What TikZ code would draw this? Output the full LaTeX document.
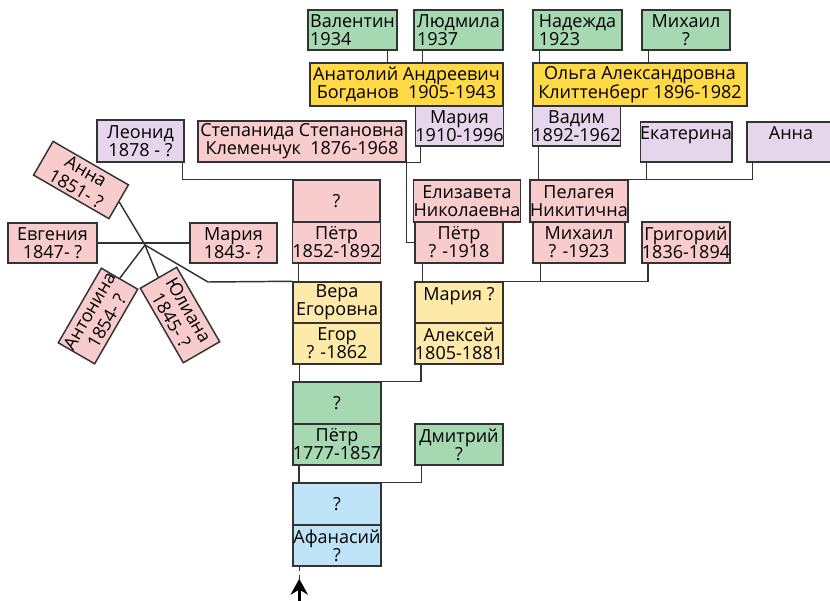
\documentclass[tikz,border=0pt]{standalone}
\usepackage{fontspec}
\setmainfont{Open Sans}
\usetikzlibrary{arrows.meta,calc}

\definecolor{boxline}{RGB}{51,51,51}
\definecolor{grn}{RGB}{166,216,178}
\definecolor{ylw}{RGB}{255,217,70}
\definecolor{lylw}{RGB}{253,233,168}
\definecolor{pnk}{RGB}{248,204,204}
\definecolor{vlt}{RGB}{230,214,236}
\definecolor{blu}{RGB}{190,226,246}

\begin{document}
\begin{tikzpicture}[x=0.75pt,y=0.75pt,yscale=-1,xscale=1,
	box/.style={draw=boxline, line width=1.1pt, inner sep=0pt, align=center, font=\fontsize{13.5}{13.5}\selectfont},
	tilted/.style={box, font=\fontsize{13.5}{15}\selectfont},
	sz/.style 2 args={minimum width=#1*0.75pt, minimum height=#2*0.75pt},
	link/.style={draw=boxline, line width=1.1pt}]
	\useasboundingbox (0,0) rectangle (830,600);
	% top row
	\node[box, sz={89}{40}, fill=grn, align=left] (valentin) at (352.5,30) {Валентин\\1934};
	\node[box, sz={89}{40}, fill=grn, align=left] (ludmila) at (458.5,30) {Людмила\\1937};
	\node[box, sz={89}{40}, fill=grn, align=left] (nadezhda) at (577.5,30) {Надежда\\1923};
	\node[box, sz={88}{40}, fill=grn] (mikhailA) at (686,30) {Михаил\\?};
	\node[box, sz={193}{43}, fill=ylw] (anatoly) at (406.5,84.5) {Анатолий Андреевич\\Богданов~~1905-1943};
	\node[box, sz={214}{43}, fill=ylw] (olga) at (640,84.5) {Ольга Александровна\\Клиттенберг 1896-1982};
	\node[box, sz={87}{40}, fill=vlt] (mariaB) at (459.5,126) {Мария\\1910-1996};
	\node[box, sz={87}{40}, fill=vlt] (vadim) at (576.5,126) {Вадим\\1892-1962};
	\node[box, sz={88}{40}, fill=vlt] (ekaterina) at (686,142) {Екатерина\\~};
	\node[box, sz={88}{40}, fill=vlt] (annaB) at (791,142) {Анна\\~};
	\node[box, sz={87}{42}, fill=vlt] (leonid) at (140.5,141) {Леонид\\1878 - ?};
	\node[box, sz={208}{41}, fill=pnk] (stepanida) at (302,141.5) {Степанида Степановна\\Клеменчук~~1876-1968};
	% pink row
	\node[box, sz={87}{42}, fill=pnk] (petrQ) at (336.5,201) {?};
	\node[box, sz={87}{41}, fill=pnk] (petrA) at (336.5,242.5) {Пётр\\1852-1892};
	\node[box, sz={104}{42}, fill=pnk] (elizaveta) at (467,201) {Елизавета\\Николаевна};
	\node[box, sz={88}{41}, fill=pnk] (petrB) at (459,242.5) {Пётр\\? -1918};
	\node[box, sz={92}{42}, fill=pnk] (pelageya) at (579,201) {Пелагея\\Никитична};
	\node[box, sz={92}{41}, fill=pnk] (mikhailB) at (579,242.5) {Михаил\\? -1923};
	\node[box, sz={88}{41}, fill=pnk] (grigory) at (686,242.5) {Григорий\\1836-1894};
	\node[box, sz={87}{40}, fill=pnk] (mariaC) at (233.5,243) {Мария\\1843- ?};
	\node[box, sz={89}{40}, fill=pnk] (evgenia) at (52.5,243) {Евгения\\1847- ?};
	\node[tilted, sz={87}{39}, fill=pnk, rotate=-30] (annaC) at (81,180) {Анна\\1851- ?};
	\node[tilted, sz={86}{42}, fill=pnk, rotate=60] (antonina) at (98,316) {Антонина\\1854- ?};
	\node[tilted, sz={86}{42}, fill=pnk, rotate=-60] (yuliana) at (180,315) {Юлиана\\1845- ?};
	% yellow row
	\node[box, sz={88}{41}, fill=lylw] (vera) at (337,302.5) {Вера\\Егоровна};
	\node[box, sz={88}{41}, fill=lylw] (egor) at (337,343.5) {Егор\\? -1862};
	\node[box, sz={88}{41}, fill=lylw] (mariaQ) at (459,302.5) {Мария ?\\~};
	\node[box, sz={88}{41}, fill=lylw] (alexey) at (459,343.5) {Алексей\\1805-1881};
	% green row
	\node[box, sz={88}{42}, fill=grn] (petrC) at (337,403) {?};
	\node[box, sz={88}{41}, fill=grn] (petrD) at (337,444.5) {Пётр\\1777-1857};
	\node[box, sz={88}{41}, fill=grn] (dmitry) at (459,444.5) {Дмитрий\\?};
	% blue
	\node[box, sz={88}{42}, fill=blu] (afQ) at (337,504) {?};
	\node[box, sz={88}{41}, fill=blu] (afN) at (337,545.5) {Афанасий\\?};

	% drop points
	\coordinate (dv) at ($(valentin.south east)+(-10,0)$);
	\coordinate (dl) at ($(ludmila.south west)+(9,0)$);
	\coordinate (dn) at ($(nadezhda.south west)+(7,0)$);
	\coordinate (dm) at ($(mikhailA.south west)+(7,0)$);
	\coordinate (dmb) at ($(mariaB.south west)+(6,0)$);
	\coordinate (dva) at ($(vadim.south west)+(7,0)$);
	\coordinate (dek) at ($(ekaterina.south west)+(7,0)$);
	\coordinate (dan) at ($(annaB.south west)+(6,0)$);
	\coordinate (dle) at ($(leonid.south east)+(-2,0)$);
	\coordinate (dpa) at ($(petrA.south west)+(7,0)$);
	\coordinate (dpb) at ($(petrB.south west)+(8,0)$);
	\coordinate (dmi) at ($(mikhailB.south west)+(8,0)$);
	\coordinate (dgr) at ($(grigory.south west)+(7,0)$);
	\coordinate (deg) at ($(egor.south west)+(7,0)$);
	\coordinate (dal) at ($(alexey.south west)+(7,0)$);
	\coordinate (dpd) at ($(petrD.south west)+(7,0)$);
	\coordinate (ddm) at ($(dmitry.south west)+(7,0)$);
	\coordinate (daf) at ($(afN.south west)+(7,0)$);
	\coordinate (star) at (145,245);
	\coordinate (bend) at (208,282);
	\coordinate (tip) at ($(daf)+(0,12)$);
	\coordinate (root) at ($(daf)+(0,40)$);

	% connectors
	\draw[link] (dv) -- (dv |- anatoly.north);
	\draw[link] (dl) -- (dl |- anatoly.north);
	\draw[link] (dn) -- (dn |- olga.north);
	\draw[link] (dm) -- (dm |- olga.north);
	\draw[link] (dmb) |- (stepanida.south east) -- (stepanida.south east |- petrB.west) -- (petrB.west);
	\draw[link] (dva) |- (dan |- pelageya.north) -- (dan);
	\draw[link] (dek) -- (dek |- pelageya.north);
	\draw[link] (dle) |- (petrQ.north west);
	\draw[link] (evgenia.east) -- (mariaC.west);
	\draw[link] (annaC.east) -- (star) -- (yuliana.west);
	\draw[link] (antonina.east) -- (star);
	\draw[link] (star) -- (bend) -- (vera.north west);
	\draw[link] (dpa) -- (dpa |- vera.north);
	\draw[link] (dpb) |- (dgr |- mariaQ.north) -- (dgr);
	\draw[link] (dmi) -- (dmi |- mariaQ.north);
	\draw[link] (deg) -- (deg |- petrC.north);
	\draw[link] (dal) |- (petrC.north east);
	\draw[link] (dpd) -- (dpd |- afQ.north);
	\draw[link] (ddm) |- (afQ.north east);
	\draw[boxline, line width=0.8pt, dashed] (daf) -- (tip);
	\draw[line width=2.4pt, -{Stealth[length=12pt,width=13pt]}] (root) -- (tip);
\end{tikzpicture}
\end{document}
